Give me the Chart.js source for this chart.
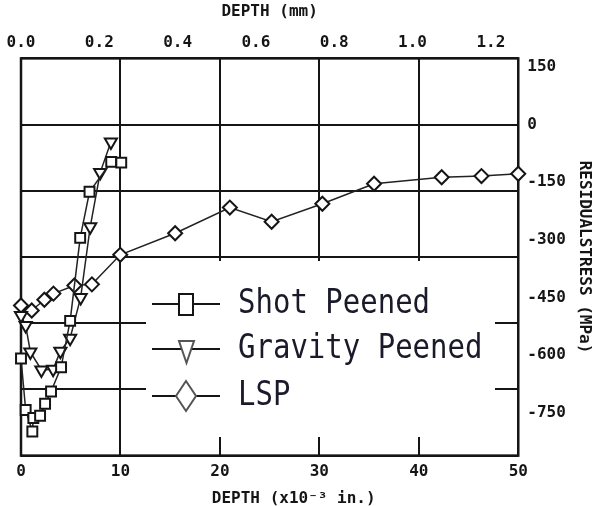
<!DOCTYPE html>
<html>
<head>
<meta charset="utf-8">
<script src="https://cdn.jsdelivr.net/npm/chart.js@4"></script>
<style>
  body { margin: 0; background: #fff; }
  canvas { display: block; }
</style>
</head>
<body>
<canvas id="stressChart" width="594" height="506"></canvas>
<script>
// depth in 1e-3 in., stress in MPa
const shotDepth = [0, 0.47, 1.14, 1.24, 1.92, 2.42, 3.02, 4.03, 4.94, 5.95, 6.89, 9.07, 10.08];
const shotStress = [-609, -743, -799, -764, -758, -727, -695, -632, -511, -295, -175, -97, -99];

const gravityDepth = [0, 0.47, 0.94, 2.05, 3.23, 3.96, 4.94, 6.0, 6.96, 7.96, 9.04];
const gravityStress = [-497, -523, -592, -639, -637, -590, -556, -450, -266, -125, -45];

const lspDepth = [0, 1.08, 2.35, 3.26, 5.37, 7.13, 9.98, 15.5, 21.0, 25.2, 30.3, 35.5, 42.3, 46.3, 50.0];
const lspStress = [-471, -484, -456, -440, -419, -416, -339, -283, -216, -253, -206, -154, -137, -134, -128];

const seriesNames = ['Shot Peened', 'Gravity Peened', 'LSP'];

const inchTicks = [0, 10, 20, 30, 40, 50];
const mmTicks = [0, 0.2, 0.4, 0.6, 0.8, 1.0, 1.2];
const mpaTicks = [150, 0, -150, -300, -450, -600, -750];
const ksiGrid = [25, 0, -25, -50, -75, -100, -125];

const KSI_TO_MPA = 6.8948;
const MONO = "'DejaVu Sans Mono', monospace";
const INK = '#151515';

function toPoints(xs, ys) {
    return xs.map((x, i) => ({ x: x, y: ys[i] }));
}

function setTicks(values) {
    return function (axis) {
        axis.ticks = values.map(v => ({ value: v }));
    };
}

const tickFont = { family: MONO, size: 16, weight: 'bold' };

// plot frame, drawn under the markers
const framePlugin = {
    id: 'frame',
    beforeDatasetsDraw(chart) {
        const a = chart.chartArea;
        const ctx = chart.ctx;
        ctx.save();
        ctx.strokeStyle = INK;
        ctx.lineWidth = 2.5;
        ctx.strokeRect(a.left, a.top, a.right - a.left, a.bottom - a.top);
        ctx.restore();
    }
};

// boxed legend inside the plot
const boxLegend = {
    id: 'boxLegend',
    afterDraw(chart) {
        const ctx = chart.ctx;
        ctx.save();
        ctx.fillStyle = '#fff';
        ctx.fillRect(146, 261, 349, 176);

        const rows = [304, 349, 396];
        rows.forEach((y, i) => {
            ctx.strokeStyle = INK;
            ctx.lineWidth = 2;
            ctx.beginPath();
            ctx.moveTo(152, y);
            ctx.lineTo(220, y);
            ctx.stroke();

            ctx.fillStyle = '#fff';
            ctx.beginPath();
            if (i === 0) {
                ctx.rect(179, 294, 14, 21);
                ctx.strokeStyle = INK;
            } else if (i === 1) {
                ctx.moveTo(179, 341);
                ctx.lineTo(194, 341);
                ctx.lineTo(186.5, 363);
                ctx.closePath();
                ctx.strokeStyle = '#555';
            } else {
                ctx.moveTo(186, 381);
                ctx.lineTo(196, 396);
                ctx.lineTo(186, 411);
                ctx.lineTo(176, 396);
                ctx.closePath();
                ctx.strokeStyle = '#555';
            }
            ctx.fill();
            ctx.stroke();

            ctx.fillStyle = '#1a1a2a';
            ctx.font = '29px ' + MONO;
            ctx.textBaseline = 'middle';
            ctx.translate(238, y);
            ctx.scale(1, 1.18);
            ctx.fillText(seriesNames[i], 0, 0);
            ctx.setTransform(1, 0, 0, 1, 0, 0);
        });
        ctx.restore();
    }
};

const lineStyle = {
    xAxisID: 'x',
    yAxisID: 'y',
    borderColor: '#222',
    borderWidth: 1.5,
    pointBackgroundColor: '#fff',
    pointBorderColor: INK,
    pointBorderWidth: 2,
    pointRadius: 7,
    tension: 0,
    clip: false
};

new Chart(document.getElementById('stressChart').getContext('2d'), {
    type: 'line',
    data: {
        datasets: [
            Object.assign({ label: seriesNames[0], data: toPoints(shotDepth, shotStress), pointStyle: 'rect' }, lineStyle),
            Object.assign({ label: seriesNames[1], data: toPoints(gravityDepth, gravityStress), pointStyle: 'triangle', pointRotation: 180 }, lineStyle),
            Object.assign({ label: seriesNames[2], data: toPoints(lspDepth, lspStress), pointStyle: 'rectRot' }, lineStyle)
        ]
    },
    options: {
        responsive: false,
        animation: false,
        layout: { padding: { left: 21, right: 0, top: 0, bottom: 0 } },
        scales: {
            x: {
                type: 'linear',
                position: 'bottom',
                min: 0,
                max: 50,
                afterBuildTicks: setTicks(inchTicks),
                ticks: { font: tickFont, color: INK, padding: 7 },
                grid: { color: INK, lineWidth: 2, drawTicks: false },
                border: { display: false },
                title: {
                    display: true,
                    text: '     DEPTH (x10\u207B\u00B3 in.)',
                    font: tickFont,
                    color: INK,
                    padding: { top: 0, bottom: -2 }
                }
            },
            xMm: {
                type: 'linear',
                position: 'top',
                min: 0,
                max: 1.27,
                afterBuildTicks: setTicks(mmTicks),
                ticks: { font: tickFont, color: INK, padding: -2, callback: v => v.toFixed(1) },
                grid: { display: false },
                border: { display: false },
                title: {
                    display: true,
                    text: 'DEPTH (mm)',
                    font: tickFont,
                    color: INK,
                    padding: { top: 2, bottom: 14 }
                }
            },
            yKsi: {
                type: 'linear',
                position: 'left',
                min: -125,
                max: 25,
                afterBuildTicks: setTicks(ksiGrid),
                ticks: { display: false },
                grid: { color: INK, lineWidth: 2, drawTicks: false },
                border: { display: false }
            },
            y: {
                type: 'linear',
                position: 'right',
                min: -125 * KSI_TO_MPA,
                max: 25 * KSI_TO_MPA,
                afterBuildTicks: setTicks(mpaTicks),
                ticks: { font: tickFont, color: INK, padding: 1 },
                grid: { display: false },
                border: { display: false },
                title: {
                    display: true,
                    text: 'RESIDUALSTRESS (MPa)',
                    font: tickFont,
                    color: INK,
                    padding: { top: 0, bottom: 8 }
                }
            }
        },
        plugins: {
            legend: { display: false },
            tooltip: { enabled: false }
        }
    },
    plugins: [framePlugin, boxLegend]
});
</script>
</body>
</html>
